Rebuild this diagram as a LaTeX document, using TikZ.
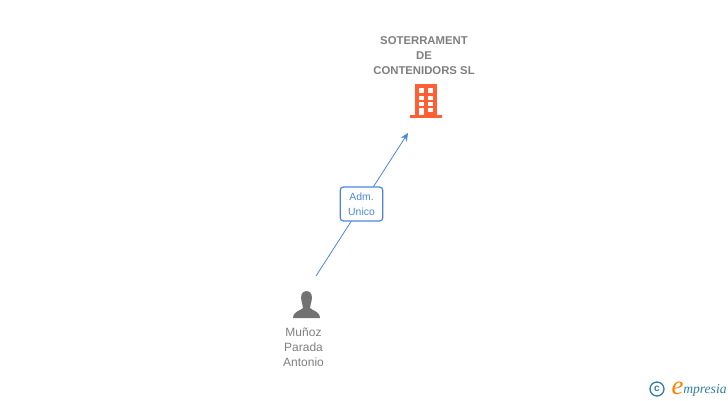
\documentclass[tikz,border=0pt]{standalone}
\usepackage{fontspec}
\setmainfont{Liberation Sans}
\newfontfamily\logofont{Liberation Serif}
\usetikzlibrary{arrows.meta}
\definecolor{linkblue}{HTML}{4A86E0}
\definecolor{namegray}{HTML}{7F7F7F}
\definecolor{iconorange}{HTML}{FF5F33}
\definecolor{logoteal}{HTML}{2F7F9F}
\tikzset{
  namelabel/.style={text=namegray,align=center,inner sep=0pt,font=\fontsize{9}{11.25}\selectfont},
  companylabel/.style={namelabel,font=\fontsize{8.5}{11.25}\selectfont\bfseries},
  rolebox/.style={draw=linkblue,line width=0.9pt,rounded corners=2.5pt,fill=white,text=linkblue,align=center,
    inner sep=0pt,minimum width=32pt,minimum height=25.5pt,font=\fontsize{7.8}{11.25}\selectfont},
  link/.style={draw=linkblue,line width=0.6pt,-{Stealth[length=6pt,width=5.5pt]}}
}
\begin{document}
\begin{tikzpicture}[x=0.75pt,y=-0.75pt]
\useasboundingbox (0,0) rectangle (728,400);
% company
\node [companylabel] (company) at (424,55.5) {SOTERRAMENT\\DE\\CONTENIDORS SL};
\fill [iconorange] (415,84) rectangle (437,115);
\fill [iconorange] (410,115) rectangle (442,118);
\foreach \wy/\wh in {88/5,96/4,102/3.5} {
  \fill [white] (419,\wy) rectangle ++(5,\wh);
  \fill [white] (428,\wy) rectangle ++(5,\wh);
}
\fill [white] (419,108) rectangle ++(5,7);
\fill [white] (428,108) rectangle ++(5,4);
\coordinate (arrowend) at (408,133);
% person
\fill [namegray!90!black] (306.5,291) .. controls (301,291) and (300.5,297) .. (301.5,301)
  .. controls (302,304) and (303,306) .. (303,308)
  .. controls (300,311) and (293.5,311) .. (293,318)
  -- (320,318) .. controls (319.5,311) and (313,311) .. (310,308)
  .. controls (310,306) and (311,304) .. (311.5,301)
  .. controls (312.5,297) and (312,291) .. (306.5,291) -- cycle;
\node [namelabel] (person) at (303.5,347) {Muñoz\\Parada\\Antonio};
\coordinate (arrowstart) at (316,276);
% link
\draw [link] (arrowstart) -- (arrowend);
\node [rolebox] (role) at (361.5,204) {Adm.\\Unico};
% logo
\node [draw=logoteal,line width=1pt,circle,inner sep=0pt,minimum size=10.5pt,text=logoteal,font=\fontsize{7.5}{7.5}\selectfont\bfseries] (copy) at (657,389) {c};
\node [inner sep=0pt,text=orange,font=\logofont\itshape\fontsize{20}{20}\selectfont] (logoe) at (677.5,388) {e};
\node [inner sep=0pt,anchor=west,text=logoteal,font=\logofont\itshape\fontsize{10.2}{10.2}\selectfont] (logotext) at (683,390) {mpresia};
\end{tikzpicture}
\end{document}
